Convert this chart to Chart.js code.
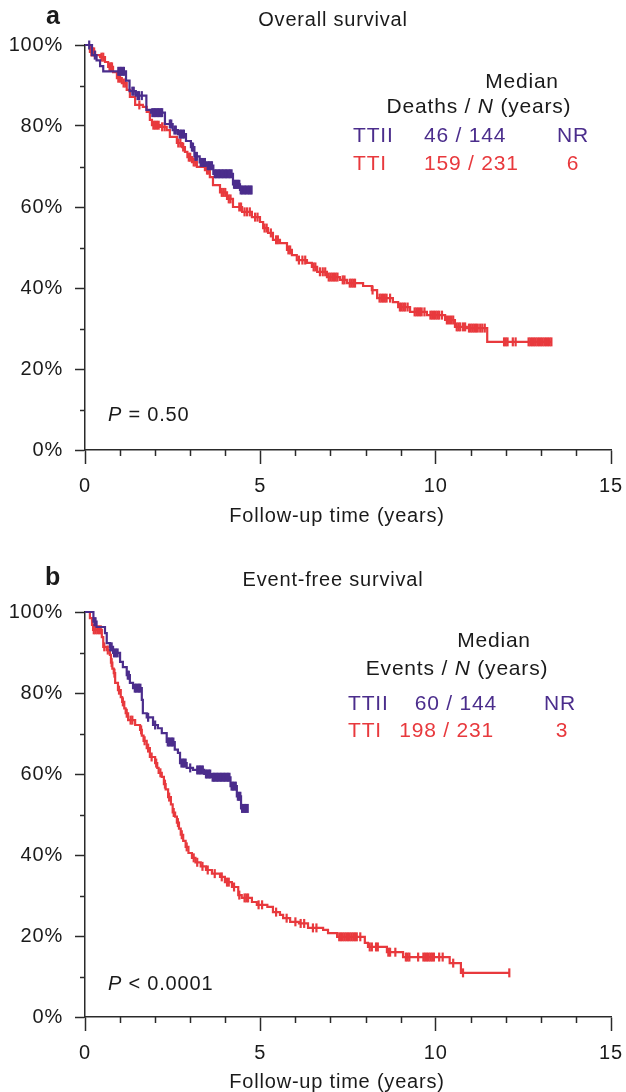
<!DOCTYPE html>
<html>
<head>
<meta charset="utf-8">
<script src="https://cdn.jsdelivr.net/npm/chart.js@4.4.1/dist/chart.umd.min.js"></script>
<style>
body{margin:0;background:#fff;overflow:hidden;width:626px;height:1092px;}
canvas{position:absolute;left:0;}
#osChart{top:0;}
#efsChart{top:545px;}
</style>
</head>
<body>
<canvas id="osChart" width="626" height="545"></canvas>
<canvas id="efsChart" width="626" height="570"></canvas>
<script>
// ===============================
// Data
// ===============================

const groups = ['TTII', 'TTI'];
const osDeaths = ['46 / 144', '159 / 231'];
const osMedian = ['NR', '6'];
const efsEvents = ['60 / 144', '198 / 231'];
const efsMedian = ['NR', '3'];

const xTickValues = [0, 5, 10, 15];
const xMinorTicks = [1, 2, 3, 4, 6, 7, 8, 9, 11, 12, 13, 14];
const yTickValues = [0, 20, 40, 60, 80, 100];
const yMinorTicks = [10, 30, 50, 70, 90];

// Overall survival - TTII
const osTtiiTime = [0, 0.2, 0.33, 0.43, 0.52, 1.17, 1.27, 1.45, 1.75, 1.88, 2.28, 2.5, 2.65, 2.88, 3.02, 3.12, 3.27, 3.45, 3.66, 4.22, 4.42, 4.76];
const osTtiiSurv = [100, 97.5, 96.2, 94.8, 93.5, 91.2, 88.6, 87.5, 84.0, 83.3, 80.5, 79.0, 78.0, 76.3, 74.8, 72.5, 71.0, 70.2, 68.2, 65.6, 64.2, 64.2];
const osTtiiCensor = [0.12, 0.28, 0.95, 0.99, 1.03, 1.07, 1.11, 1.35, 1.39, 1.5, 1.54, 1.62, 1.92, 1.96, 2.0, 2.04, 2.08, 2.12, 2.16, 2.2, 2.42, 2.46, 2.55, 2.59, 2.7, 2.74, 2.78, 2.82, 3.05, 3.08, 3.15, 3.19, 3.3, 3.34, 3.38, 3.42, 3.5, 3.54, 3.58, 3.62, 3.7, 3.74, 3.78, 3.82, 3.86, 3.9, 3.94, 3.98, 4.02, 4.06, 4.1, 4.14, 4.18, 4.25, 4.28, 4.31, 4.34, 4.37, 4.4, 4.44, 4.48, 4.52, 4.56, 4.6, 4.64, 4.68, 4.72, 4.75];

// Overall survival - TTI
const osTtiTime = [0, 0.14, 0.29, 0.43, 0.57, 0.66, 0.80, 0.91, 1.05, 1.19, 1.28, 1.43, 1.65, 1.76, 1.85, 1.91, 2.14, 2.33, 2.42, 2.62, 2.77, 2.85, 2.92, 3.05, 3.19, 3.42, 3.56, 3.65, 3.85, 4.05, 4.22, 4.48, 4.76, 4.99, 5.08, 5.22, 5.36, 5.56, 5.76, 5.90, 6.04, 6.33, 6.47, 6.62, 6.90, 7.27, 7.47, 7.93, 8.18, 8.33, 8.78, 8.93, 9.27, 9.75, 10.27, 10.55, 10.89, 11.47, 13.3];
const osTtiSurv = [100, 98.3, 97.5, 97.0, 95.8, 94.6, 93.3, 91.8, 90.6, 88.9, 87.2, 85.2, 84.7, 83.5, 81.5, 80.2, 79.8, 79.0, 77.3, 75.8, 74.8, 73.6, 72.3, 71.1, 69.9, 69.1, 67.4, 65.4, 63.6, 62.0, 60.0, 58.8, 57.5, 56.3, 54.8, 53.6, 51.9, 51.1, 49.4, 48.1, 46.9, 46.2, 45.2, 44.0, 42.7, 42.0, 41.2, 40.5, 39.5, 37.5, 36.5, 35.3, 34.1, 33.3, 32.1, 30.4, 30.1, 26.7, 26.7];
const osTtiCensor = [0.18, 0.22, 0.26, 0.47, 0.52, 0.70, 0.74, 0.77, 0.95, 1.0, 1.1, 1.15, 1.55, 1.95, 2.0, 2.05, 2.1, 2.2, 2.27, 2.66, 2.72, 2.8, 2.96, 3.0, 3.1, 3.15, 3.48, 3.52, 3.9, 3.95, 4.0, 4.1, 4.15, 4.4, 4.45, 4.55, 4.62, 4.7, 4.85, 4.92, 5.12, 5.18, 5.3, 5.45, 5.5, 5.8, 5.85, 6.1, 6.2, 6.28, 6.52, 6.57, 6.7, 6.78, 6.85, 6.95, 7.0, 7.05, 7.1, 7.15, 7.2, 7.35, 7.4, 7.55, 7.6, 7.65, 7.7, 8.2, 8.4, 8.45, 8.5, 8.55, 8.6, 8.7, 8.98, 9.03, 9.08, 9.13, 9.2, 9.4, 9.45, 9.5, 9.55, 9.6, 9.68, 9.85, 9.9, 9.95, 10.0, 10.05, 10.1, 10.18, 10.32, 10.38, 10.44, 10.5, 10.6, 10.65, 10.7, 10.78, 10.84, 10.95, 11.0, 11.05, 11.1, 11.15, 11.2, 11.27, 11.33, 11.4, 11.95, 12.0, 12.05, 12.2, 12.28, 12.65, 12.7, 12.75, 12.8, 12.85, 12.9, 12.95, 13.0, 13.05, 13.1, 13.15, 13.2, 13.25, 13.3];

// Event-free survival - TTII
const efsTtiiTime = [0, 0.24, 0.33, 0.57, 0.62, 0.71, 0.80, 1.00, 1.08, 1.19, 1.28, 1.37, 1.62, 1.65, 1.76, 1.94, 2.08, 2.19, 2.33, 2.56, 2.65, 2.71, 2.90, 3.08, 3.40, 3.60, 4.15, 4.33, 4.45, 4.65];
const efsTtiiSurv = [100, 97.6, 96.3, 94.8, 92.3, 91.4, 89.9, 87.7, 86.4, 84.4, 82.5, 81.2, 78.3, 75.0, 74.0, 72.1, 71.3, 70.1, 67.9, 66.0, 65.2, 62.7, 61.5, 61.0, 60.0, 59.2, 57.0, 54.5, 51.5, 51.5];
const efsTtiiCensor = [0.27, 0.3, 0.72, 0.76, 0.83, 0.88, 0.93, 1.22, 1.25, 1.42, 1.46, 1.5, 1.54, 1.58, 1.8, 2.0, 2.36, 2.4, 2.44, 2.48, 2.52, 2.75, 2.79, 2.83, 2.87, 3.0, 3.2, 3.24, 3.28, 3.32, 3.36, 3.45, 3.49, 3.53, 3.57, 3.64, 3.68, 3.72, 3.76, 3.8, 3.84, 3.88, 3.92, 3.96, 4.0, 4.04, 4.08, 4.12, 4.18, 4.22, 4.26, 4.3, 4.36, 4.4, 4.43, 4.48, 4.52, 4.56, 4.6, 4.64];

// Event-free survival - TTI
const efsTtiTime = [0, 0.14, 0.20, 0.23, 0.48, 0.52, 0.62, 0.71, 0.74, 0.78, 0.82, 0.86, 0.94, 1.02, 1.06, 1.12, 1.16, 1.23, 1.43, 1.57, 1.62, 1.67, 1.76, 1.85, 2.00, 2.06, 2.10, 2.19, 2.25, 2.30, 2.37, 2.45, 2.50, 2.57, 2.62, 2.68, 2.73, 2.80, 2.87, 2.95, 3.05, 3.15, 3.30, 3.45, 3.62, 3.85, 3.99, 4.19, 4.37, 4.47, 4.76, 4.90, 5.20, 5.36, 5.56, 5.65, 5.85, 6.10, 6.36, 6.79, 6.93, 7.19, 7.98, 8.07, 8.61, 9.07, 10.40, 10.72, 12.10];
const efsTtiSurv = [100, 98.5, 96.8, 95.6, 93.8, 91.4, 90.6, 89.4, 87.5, 86.0, 84.9, 82.5, 80.7, 79.0, 77.8, 76.2, 75.0, 73.3, 72.1, 70.9, 69.5, 68.2, 66.4, 64.2, 62.7, 61.5, 60.3, 59.3, 57.5, 56.2, 54.3, 52.5, 50.5, 49.5, 48.0, 46.5, 45.0, 43.5, 42.0, 40.5, 39.3, 38.2, 37.2, 36.3, 35.4, 34.6, 33.3, 32.1, 30.1, 29.4, 28.4, 27.7, 27.2, 25.9, 25.2, 24.4, 23.5, 23.1, 22.0, 21.5, 20.7, 19.8, 18.3, 17.3, 16.0, 14.8, 13.3, 10.9, 10.9];
const efsTtiCensor = [0.25, 0.3, 0.35, 0.4, 0.45, 0.55, 0.65, 0.76, 0.84, 0.97, 1.08, 1.19, 1.3, 1.35, 1.6, 1.7, 1.8, 1.9, 2.03, 2.15, 2.28, 2.4, 2.53, 2.65, 2.76, 2.9, 3.1, 3.2, 3.35, 3.5, 3.7, 3.9, 4.05, 4.1, 4.25, 4.4, 4.55, 4.6, 4.65, 4.95, 5.05, 5.45, 5.75, 6.0, 6.15, 6.25, 6.5, 6.6, 7.25, 7.3, 7.35, 7.4, 7.45, 7.5, 7.55, 7.6, 7.65, 7.7, 7.75, 7.85, 8.12, 8.18, 8.3, 8.35, 8.65, 8.7, 8.85, 9.15, 9.2, 9.25, 9.5, 9.65, 9.7, 9.75, 9.8, 9.85, 9.9, 9.95, 10.1, 10.2, 10.5, 10.78, 12.1];


// ===============================
// Styling
// ===============================

const FAMILY = '"Liberation Sans", Arial, Helvetica, sans-serif';
const PURPLE = '#4b2d8c';
const RED = '#e8393d';
const INK = '#1a1a1a';
const AXIS = '#2a2a2a';
const groupColors = [PURPLE, RED];
const X_TITLE = 'Follow-up time (years)';


// step lookup on a KM curve (value after the last event before t)
function survAt(time, surv, t){
let s = surv[0];
for(let i = 0; i < time.length; i++){
if(time[i] <= t) s = surv[i];
}
return s;
}

function curveDataset(time, surv, color){
return {
data: time.map((t, i) => ({x: t, y: surv[i]})),
showLine: true,
stepped: true,
borderColor: color,
borderWidth: 2.2,
pointRadius: 0,
fill: false,
clip: false
};
}

function censorDataset(time, surv, censor, color){
return {
data: censor.map(t => ({x: t, y: survAt(time, surv, t)})),
showLine: false,
pointStyle: 'line',
rotation: 90,
pointRadius: 4.5,
borderColor: color,
pointBorderColor: color,
pointBorderWidth: 2.2,
clip: false
};
}

function drawRuns(ctx, item){
const size = item.size || 20;
const fontFor = r => (r.italic ? 'italic ' : '') + (item.bold ? 'bold ' : '') + size + 'px ' + FAMILY;
let w = 0;
item.runs.forEach(r => { ctx.font = fontFor(r); w += ctx.measureText(r.text).width; });
let x = item.x;
if(item.align === 'center') x -= w / 2;
if(item.align === 'right') x -= w;
ctx.fillStyle = item.color || INK;
ctx.textAlign = 'left';
ctx.textBaseline = item.baseline || 'alphabetic';
item.runs.forEach(r => {
ctx.font = fontFor(r);
ctx.fillText(r.text, x, item.y);
x += ctx.measureText(r.text).width;
});
}

function panelPlugin(items){
return {
id: 'panelText',
beforeDraw(chart){
chart.ctx.letterSpacing = '0.8px';
},
afterDraw(chart){
const ctx = chart.ctx;
const xs = chart.scales.x;
const ys = chart.scales.y;
const area = chart.chartArea;
ctx.save();
ctx.strokeStyle = AXIS;
ctx.lineWidth = 1.5;
xMinorTicks.forEach(v => {
const px = Math.round(xs.getPixelForValue(v)) + 0.5;
ctx.beginPath();
ctx.moveTo(px, area.bottom);
ctx.lineTo(px, area.bottom + 6);
ctx.stroke();
});
yMinorTicks.forEach(v => {
const py = Math.round(ys.getPixelForValue(v)) + 0.5;
ctx.beginPath();
ctx.moveTo(area.left - 5, py);
ctx.lineTo(area.left, py);
ctx.stroke();
});
ctx.letterSpacing = '0.8px';
items.forEach(it => drawRuns(ctx, it));
ctx.restore();
}
};
}

function makePanel(canvasId, cfg){
const ctx = document.getElementById(canvasId);
if(!ctx) return;
const datasets = [];
cfg.series.forEach(s => {
datasets.push(censorDataset(s.time, s.surv, s.censor, s.color));
datasets.push(curveDataset(s.time, s.surv, s.color));
});
new Chart(ctx, {
type: 'scatter',
data: {datasets: datasets},
options: {
responsive: false,
animation: false,
events: [],
layout: {padding: {top: cfg.top, right: 15, left: 0, bottom: 0}},
plugins: {legend: {display: false}, tooltip: {enabled: false}},
scales: {
x: {
type: 'linear', min: 0, max: 15,
afterBuildTicks: s => { s.ticks = xTickValues.map(v => ({value: v})); },
ticks: {color: INK, padding: 10, maxRotation: 0, autoSkip: false, font: {family: FAMILY, size: 20}},
grid: {drawOnChartArea: false, drawTicks: true, tickLength: 14, tickColor: AXIS, tickWidth: 1.5},
border: {display: true, color: AXIS, width: 1.5},
title: {display: false},
afterFit: s => { s.height = cfg.xHeight; s.paddingLeft = 0; s.paddingRight = 10; }
},
y: {
type: 'linear', min: 0, max: 100,
afterBuildTicks: s => { s.ticks = yTickValues.map(v => ({value: v})); },
ticks: {color: INK, padding: 12, font: {family: FAMILY, size: 20}, callback: v => v + '%'},
grid: {drawOnChartArea: false, drawTicks: true, tickLength: 10, tickColor: AXIS, tickWidth: 1.5},
border: {display: true, color: AXIS, width: 1.5},
afterFit: s => { s.width = 85; }
}
}
},
plugins: [panelPlugin(cfg.items)]
});
}


// ===============================
// Panel a - Overall survival
// ===============================

makePanel('osChart', {
top: 45, xHeight: 95,
series: [
{time: osTtiiTime, surv: osTtiiSurv, censor: osTtiiCensor, color: PURPLE},
{time: osTtiTime, surv: osTtiSurv, censor: osTtiCensor, color: RED}
],
items: [
{runs: [{text: 'a'}], bold: true, size: 25, x: 46, y: 24, align: 'left'},
{runs: [{text: 'Overall survival'}], x: 333, y: 26, align: 'center'},
{runs: [{text: 'Median'}], size: 21, x: 522, y: 88, align: 'center'},
{runs: [{text: 'Deaths / '}, {text: 'N', italic: true}, {text: ' (years)'}], size: 21, x: 479, y: 113, align: 'center'},
{runs: [{text: groups[0]}], size: 21, x: 353, y: 142, align: 'left', color: groupColors[0]},
{runs: [{text: osDeaths[0]}], size: 21, x: 424, y: 142, align: 'left', color: groupColors[0]},
{runs: [{text: osMedian[0]}], size: 21, x: 573, y: 142, align: 'center', color: groupColors[0]},
{runs: [{text: groups[1]}], size: 21, x: 353, y: 170, align: 'left', color: groupColors[1]},
{runs: [{text: osDeaths[1]}], size: 21, x: 424, y: 170, align: 'left', color: groupColors[1]},
{runs: [{text: osMedian[1]}], size: 21, x: 573, y: 170, align: 'center', color: groupColors[1]},
{runs: [{text: 'P', italic: true}, {text: ' = 0.50'}], x: 108, y: 421, align: 'left'},
{runs: [{text: X_TITLE}], x: 337, y: 516, align: 'center', baseline: 'middle'}
]
});


// ===============================
// Panel b - Event-free survival
// ===============================

makePanel('efsChart', {
top: 67, xHeight: 98,
series: [
{time: efsTtiiTime, surv: efsTtiiSurv, censor: efsTtiiCensor, color: PURPLE},
{time: efsTtiTime, surv: efsTtiSurv, censor: efsTtiCensor, color: RED}
],
items: [
{runs: [{text: 'b'}], bold: true, size: 25, x: 45, y: 40, align: 'left'},
{runs: [{text: 'Event-free survival'}], x: 333, y: 41, align: 'center'},
{runs: [{text: 'Median'}], size: 21, x: 494, y: 102, align: 'center'},
{runs: [{text: 'Events / '}, {text: 'N', italic: true}, {text: ' (years)'}], size: 21, x: 457, y: 130, align: 'center'},
{runs: [{text: groups[0]}], size: 21, x: 348, y: 165, align: 'left', color: groupColors[0]},
{runs: [{text: efsEvents[0]}], size: 21, x: 497, y: 165, align: 'right', color: groupColors[0]},
{runs: [{text: efsMedian[0]}], size: 21, x: 560, y: 165, align: 'center', color: groupColors[0]},
{runs: [{text: groups[1]}], size: 21, x: 348, y: 192, align: 'left', color: groupColors[1]},
{runs: [{text: efsEvents[1]}], size: 21, x: 494, y: 192, align: 'right', color: groupColors[1]},
{runs: [{text: efsMedian[1]}], size: 21, x: 562, y: 192, align: 'center', color: groupColors[1]},
{runs: [{text: 'P', italic: true}, {text: ' < 0.0001'}], x: 108, y: 445, align: 'left'},
{runs: [{text: X_TITLE}], x: 337, y: 537, align: 'center', baseline: 'middle'}
]
});
</script>
</body>
</html>
